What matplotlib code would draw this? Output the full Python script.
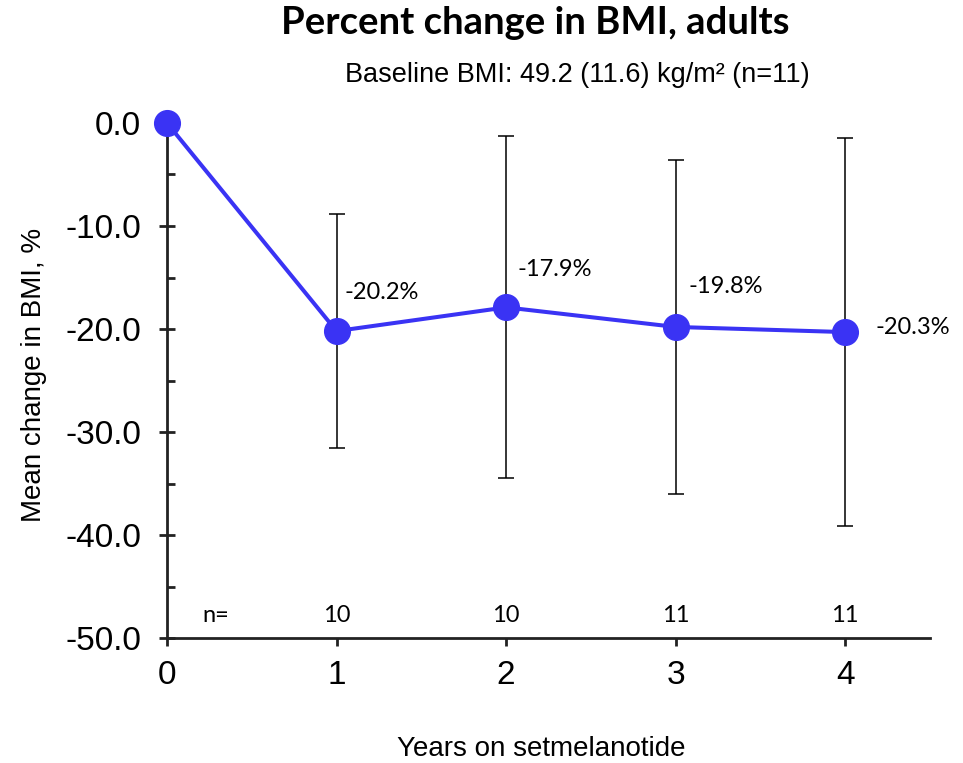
import numpy as np
import matplotlib.pyplot as plt
from matplotlib.ticker import MultipleLocator, FormatStrFormatter

plt.rcParams["font.family"] = ["Liberation Sans", "DejaVu Sans"]
LABEL_FONT = ["Lato", "DejaVu Sans"]

# mean % change in BMI by year on treatment, with SD
years = [0, 1, 2, 3, 4]
mean_change = [0.0, -20.2, -17.9, -19.8, -20.3]
sd_change = [0.0, 11.4, 16.6, 16.2, 18.8]
n_patients = [10, 10, 11, 11]
n_years = [1, 2, 3, 4]

BLUE = "#3A33F4"
INK = "#222222"

fig = plt.figure(figsize=(9.63, 7.63), dpi=100)
ax = fig.add_axes([0.1734, 0.1638, 0.7923, 0.675])

ax.errorbar(years[1:], mean_change[1:], yerr=sd_change[1:], fmt="none",
            ecolor="black", elinewidth=1.1, capsize=5.5, capthick=1.1, zorder=2)
ax.plot(years, mean_change, "-o", color=BLUE, lw=2.9, ms=18.5,
        clip_on=False, zorder=3)

# value labels next to each point
offsets = {1: (6, 28), 2: (8, 27), 3: (9, 29), 4: (22, 3)}
for x, y in zip(years[1:], mean_change[1:]):
    dx, dy = offsets[x]
    ax.annotate(f"{y:.1f}%", (x, y), textcoords="offset points",
                xytext=(dx, dy), ha="left", va="center", fontsize=17,
                family=LABEL_FONT)

# patients per timepoint
ax.text(0.29, -47.8, "n=", ha="center", va="center", fontsize=17, family=LABEL_FONT)
for x, n in zip(n_years, n_patients):
    ax.text(x, -47.8, str(n), ha="center", va="center", fontsize=17,
            family=LABEL_FONT)

ax.set_xlim(0, 4.5)
ax.set_ylim(-50, 0)
ax.set_xticks(years)
ax.yaxis.set_major_locator(MultipleLocator(10))
ax.yaxis.set_minor_locator(MultipleLocator(5))
ax.yaxis.set_major_formatter(FormatStrFormatter("%.1f"))

for s in ("top", "right"):
    ax.spines[s].set_visible(False)
for s in ("left", "bottom"):
    ax.spines[s].set_linewidth(2.0)
    ax.spines[s].set_color(INK)

ax.tick_params(axis="y", which="major", direction="inout", length=11,
               width=2.0, color=INK, labelsize=24, pad=13)
ax.tick_params(axis="y", which="minor", direction="in", length=6,
               width=2.0, color=INK)
ax.tick_params(axis="x", which="major", direction="out", length=6,
               width=2.0, color=INK, labelsize=24, pad=10)

ax.set_ylabel("Mean change in BMI, %", fontsize=20)
ax.yaxis.set_label_coords(-0.157, 0.51)
ax.set_xlabel("Years on setmelanotide", fontsize=20)
ax.xaxis.set_label_coords(0.49, -0.19)

fig.text(0.556, 0.970, "Percent change in BMI, adults", ha="center", va="center",
         fontsize=27.5, fontweight="bold", family=LABEL_FONT)
fig.text(0.599, 0.902, "Baseline BMI: 49.2 (11.6) kg/m² (n=11)", ha="center",
         va="center", fontsize=19.5)

fig.savefig("out.png", dpi=100)
